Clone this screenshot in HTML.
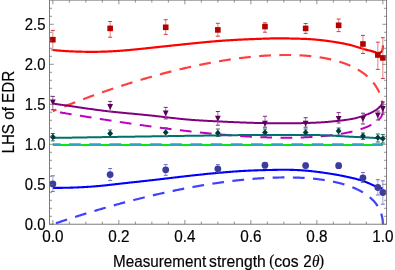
<!DOCTYPE html>
<html><head><meta charset="utf-8"><title>plot</title>
<style>html,body{margin:0;padding:0;background:#fff;width:395px;height:270px;overflow:hidden}body{position:relative;font-family:"Liberation Sans",sans-serif}</style>
</head><body>
<svg width="395" height="270" viewBox="0 0 395 270" style="position:absolute;left:0;top:0">
<defs><clipPath id="c"><rect x="49.5" y="-0.9" width="337.6" height="225.6"/></clipPath></defs>
<g clip-path="url(#c)" fill="none" stroke-linecap="butt" stroke-linejoin="round">
<path d="M52.85 144.9 H382.85" stroke="#00ea14" stroke-width="2.0"/>
<path d="M52.85 144.35 H382.85" stroke="#2ca6c0" stroke-width="2.1" stroke-dasharray="11.8 8.42" stroke-dashoffset="4.05"/>
<path d="M52.85 111.16 L53.89 110.73 L54.92 110.31 L55.96 109.88 L57 109.46 L58.03 109.04 L59.07 108.61 L60.11 108.19 L61.14 107.78 L62.18 107.36 L63.22 106.94 L64.25 106.53 L65.29 106.12 L66.32 105.7 L67.36 105.29 L68.4 104.89 L69.43 104.48 L70.47 104.07 L71.5 103.67 L72.54 103.27 L73.57 102.87 L74.61 102.47 L75.64 102.07 L76.67 101.67 L77.71 101.28 L78.74 100.88 L79.77 100.49 L80.81 100.1 L81.84 99.71 L82.87 99.32 L83.91 98.94 L84.94 98.55 L85.97 98.17 L87 97.79 L88.03 97.41 L89.06 97.03 L90.09 96.65 L91.12 96.27 L92.15 95.9 L93.18 95.53 L94.21 95.16 L95.24 94.79 L96.27 94.42 L97.29 94.05 L98.32 93.69 L99.35 93.32 L100.37 92.96 L101.4 92.6 L102.42 92.24 L103.45 91.88 L104.47 91.53 L105.5 91.18 L106.52 90.82 L107.54 90.47 L108.57 90.12 L109.59 89.77 L110.61 89.43 L111.63 89.08 L112.65 88.74 L113.67 88.4 L114.69 88.06 L115.7 87.72 L116.72 87.38 L117.74 87.05 L118.75 86.72 L119.77 86.38 L120.78 86.05 L121.8 85.72 L122.81 85.4 L123.83 85.07 L124.84 84.75 L125.85 84.43 L126.86 84.11 L127.87 83.79 L128.88 83.47 L129.89 83.15 L130.89 82.84 L131.9 82.53 L132.91 82.22 L133.91 81.91 L134.92 81.6 L135.92 81.29 L136.92 80.99 L137.93 80.69 L138.93 80.39 L139.93 80.09 L140.93 79.79 L141.93 79.49 L142.92 79.2 L143.92 78.91 L144.92 78.62 L145.91 78.33 L146.91 78.04 L147.9 77.75 L148.89 77.47 L149.88 77.19 L150.87 76.91 L151.86 76.63 L152.85 76.35 L153.84 76.07 L154.83 75.8 L155.81 75.53 L156.8 75.26 L157.78 74.99 L158.76 74.72 L159.74 74.46 L160.72 74.19 L161.7 73.93 L162.68 73.67 L163.66 73.41 L164.63 73.16 L165.61 72.9 L166.58 72.65 L167.55 72.4 L168.53 72.15 L169.5 71.9 L170.47 71.65 L171.43 71.41 L172.4 71.16 L173.37 70.92 L174.33 70.68 L175.29 70.44 L176.26 70.21 L177.22 69.97 L178.18 69.74 L179.14 69.51 L180.09 69.28 L181.05 69.05 L182 68.83 L182.96 68.61 L183.91 68.38 L184.86 68.16 L185.81 67.94 L186.76 67.73 L187.7 67.51 L188.65 67.3 L189.59 67.09 L190.54 66.88 L191.48 66.67 L192.42 66.47 L193.36 66.26 L194.29 66.06 L195.23 65.86 L196.17 65.66 L197.1 65.46 L198.03 65.27 L198.96 65.07 L199.89 64.88 L200.82 64.69 L201.74 64.5 L202.67 64.32 L203.59 64.13 L204.51 63.95 L205.43 63.77 L206.35 63.59 L207.27 63.41 L208.18 63.24 L209.1 63.06 L210.01 62.89 L210.92 62.72 L211.83 62.55 L212.74 62.39 L213.64 62.22 L214.55 62.06 L215.45 61.9 L216.35 61.74 L217.25 61.58 L218.15 61.43 L219.05 61.27 L219.94 61.12 L220.83 60.97 L221.73 60.82 L222.62 60.68 L223.5 60.53 L224.39 60.39 L225.27 60.25 L226.16 60.11 L227.04 59.97 L227.92 59.84 L228.8 59.7 L229.67 59.57 L230.55 59.44 L231.42 59.31 L232.29 59.19 L233.16 59.06 L234.03 58.94 L234.89 58.82 L235.76 58.7 L236.62 58.58 L237.48 58.47 L238.34 58.36 L239.19 58.24 L240.05 58.14 L240.9 58.03 L241.75 57.92 L242.6 57.82 L243.45 57.72 L244.29 57.62 L245.14 57.52 L245.98 57.42 L246.82 57.33 L247.66 57.23 L248.49 57.14 L249.33 57.05 L250.16 56.97 L250.99 56.88 L251.82 56.8 L252.64 56.72 L253.47 56.64 L254.29 56.56 L255.11 56.48 L255.93 56.41 L256.74 56.34 L257.56 56.26 L258.37 56.2 L259.18 56.13 L259.99 56.06 L260.79 56 L261.6 55.94 L262.4 55.88 L263.2 55.82 L264 55.77 L264.79 55.72 L265.59 55.66 L266.38 55.61 L267.17 55.57 L267.96 55.52 L268.74 55.48 L269.52 55.43 L270.3 55.39 L271.08 55.35 L271.86 55.32 L272.63 55.28 L273.41 55.25 L274.18 55.22 L274.94 55.19 L275.71 55.16 L276.47 55.14 L277.23 55.11 L277.99 55.09 L278.75 55.07 L279.51 55.05 L280.26 55.04 L281.01 55.02 L281.76 55.01 L282.5 55 L283.24 54.99 L283.99 54.99 L284.72 54.98 L285.46 54.98 L286.2 54.98 L286.93 54.98 L287.66 54.98 L288.38 54.99 L289.11 54.99 L289.83 55 L290.55 55.01 L291.27 55.02 L291.99 55.04 L292.7 55.05 L293.41 55.07 L294.12 55.09 L294.82 55.11 L295.53 55.14 L296.23 55.16 L296.93 55.19 L297.62 55.22 L298.32 55.25 L299.01 55.28 L299.7 55.32 L300.39 55.35 L301.07 55.39 L301.75 55.43 L302.43 55.48 L303.11 55.52 L303.78 55.57 L304.46 55.61 L305.13 55.66 L305.79 55.72 L306.46 55.77 L307.12 55.82 L307.78 55.88 L308.44 55.94 L309.09 56 L309.74 56.06 L310.39 56.13 L311.04 56.2 L311.68 56.26 L312.33 56.34 L312.96 56.41 L313.6 56.48 L314.24 56.56 L314.87 56.64 L315.5 56.72 L316.12 56.8 L316.75 56.88 L317.37 56.97 L317.99 57.05 L318.6 57.14 L319.21 57.23 L319.83 57.33 L320.43 57.42 L321.04 57.52 L321.64 57.62 L322.24 57.72 L322.84 57.82 L323.43 57.92 L324.03 58.03 L324.62 58.14 L325.2 58.24 L325.79 58.36 L326.37 58.47 L326.95 58.58 L327.52 58.7 L328.1 58.82 L328.67 58.94 L329.23 59.06 L329.8 59.19 L330.36 59.31 L330.92 59.44 L331.48 59.57 L332.03 59.7 L332.58 59.84 L333.13 59.97 L333.68 60.11 L334.22 60.25 L334.76 60.39 L335.3 60.53 L335.83 60.68 L336.37 60.82 L336.89 60.97 L337.42 61.12 L337.94 61.27 L338.47 61.43 L338.98 61.58 L339.5 61.74 L340.01 61.9 L340.52 62.06 L341.03 62.22 L341.53 62.39 L342.03 62.55 L342.53 62.72 L343.02 62.89 L343.52 63.06 L344.01 63.24 L344.49 63.41 L344.98 63.59 L345.46 63.77 L345.94 63.95 L346.41 64.13 L346.88 64.32 L347.35 64.5 L347.82 64.69 L348.28 64.88 L348.74 65.07 L349.2 65.27 L349.65 65.46 L350.11 65.66 L350.55 65.86 L351 66.06 L351.44 66.26 L351.88 66.47 L352.32 66.67 L352.75 66.88 L353.18 67.09 L353.61 67.3 L354.04 67.51 L354.46 67.73 L354.88 67.94 L355.3 68.16 L355.71 68.38 L356.12 68.61 L356.53 68.83 L356.93 69.05 L357.33 69.28 L357.73 69.51 L358.13 69.74 L358.52 69.97 L358.91 70.21 L359.29 70.44 L359.68 70.68 L360.06 70.92 L360.43 71.16 L360.81 71.41 L361.18 71.65 L361.55 71.9 L361.91 72.15 L362.27 72.4 L362.63 72.65 L362.99 72.9 L363.34 73.16 L363.69 73.41 L364.04 73.67 L364.38 73.93 L364.72 74.19 L365.06 74.46 L365.39 74.72 L365.72 74.99 L366.05 75.26 L366.38 75.53 L366.7 75.8 L367.02 76.07 L367.33 76.35 L367.65 76.63 L367.96 76.91 L368.26 77.19 L368.56 77.47 L368.87 77.75 L369.16 78.04 L369.46 78.33 L369.75 78.62 L370.03 78.91 L370.32 79.2 L370.6 79.49 L370.88 79.79 L371.15 80.09 L371.43 80.39 L371.69 80.69 L371.96 80.99 L372.22 81.29 L372.48 81.6 L372.74 81.91 L372.99 82.22 L373.24 82.53 L373.49 82.84 L373.73 83.15 L373.97 83.47 L374.21 83.79 L374.44 84.11 L374.67 84.43 L374.9 84.75 L375.13 85.07 L375.35 85.4 L375.57 85.72 L375.78 86.05 L375.99 86.38 L376.2 86.72 L376.41 87.05 L376.61 87.38 L376.81 87.72 L377 88.06 L377.2 88.4 L377.39 88.74 L377.57 89.08 L377.76 89.43 L377.94 89.77 L378.11 90.12 L378.29 90.47 L378.46 90.82 L378.62 91.18 L378.79 91.53 L378.95 91.88 L379.11 92.24 L379.26 92.6 L379.41 92.96 L379.56 93.32 L379.7 93.69 L379.84 94.05 L379.98 94.42 L380.12 94.79 L380.25 95.16 L380.38 95.53 L380.5 95.9 L380.62 96.27 L380.74 96.65 L380.86 97.03 L380.97 97.41 L381.08 97.79 L381.18 98.17 L381.29 98.55 L381.39 98.94 L381.48 99.32 L381.57 99.71 L381.66 100.1 L381.75 100.49 L381.83 100.88 L381.91 101.28 L381.99 101.67 L382.06 102.07 L382.13 102.47 L382.2 102.87 L382.26 103.27 L382.32 103.67 L382.38 104.07 L382.43 104.48 L382.48 104.89 L382.53 105.29 L382.57 105.7 L382.62 106.12 L382.65 106.53 L382.69 106.94 L382.72 107.36 L382.75 107.78 L382.77 108.19 L382.79 108.61 L382.81 109.04 L382.82 109.46 L382.84 109.88 L382.84 110.31 L382.85 110.73 L382.85 111.16" stroke="#ff4040" stroke-width="2.2" stroke-dasharray="11.8 8.4" stroke-dashoffset="7.88"/>
<path d="M52.85 111.16 L53.89 111.34 L54.92 111.52 L55.96 111.69 L57 111.87 L58.03 112.05 L59.07 112.22 L60.11 112.4 L61.14 112.58 L62.18 112.75 L63.22 112.93 L64.25 113.1 L65.29 113.27 L66.32 113.45 L67.36 113.62 L68.4 113.8 L69.43 113.97 L70.47 114.14 L71.5 114.31 L72.54 114.49 L73.57 114.66 L74.61 114.83 L75.64 115 L76.67 115.17 L77.71 115.34 L78.74 115.51 L79.77 115.68 L80.81 115.85 L81.84 116.02 L82.87 116.19 L83.91 116.35 L84.94 116.52 L85.97 116.69 L87 116.86 L88.03 117.02 L89.06 117.19 L90.09 117.36 L91.12 117.52 L92.15 117.69 L93.18 117.85 L94.21 118.01 L95.24 118.18 L96.27 118.34 L97.29 118.5 L98.32 118.67 L99.35 118.83 L100.37 118.99 L101.4 119.15 L102.42 119.31 L103.45 119.47 L104.47 119.63 L105.5 119.79 L106.52 119.95 L107.54 120.11 L108.57 120.27 L109.59 120.43 L110.61 120.58 L111.63 120.74 L112.65 120.9 L113.67 121.05 L114.69 121.21 L115.7 121.36 L116.72 121.52 L117.74 121.67 L118.75 121.82 L119.77 121.98 L120.78 122.13 L121.8 122.28 L122.81 122.43 L123.83 122.58 L124.84 122.73 L125.85 122.88 L126.86 123.03 L127.87 123.18 L128.88 123.33 L129.89 123.48 L130.89 123.62 L131.9 123.77 L132.91 123.92 L133.91 124.06 L134.92 124.21 L135.92 124.35 L136.92 124.49 L137.93 124.64 L138.93 124.78 L139.93 124.92 L140.93 125.06 L141.93 125.2 L142.92 125.34 L143.92 125.48 L144.92 125.62 L145.91 125.76 L146.91 125.9 L147.9 126.04 L148.89 126.17 L149.88 126.31 L150.87 126.44 L151.86 126.58 L152.85 126.71 L153.84 126.85 L154.83 126.98 L155.81 127.11 L156.8 127.24 L157.78 127.38 L158.76 127.51 L159.74 127.64 L160.72 127.76 L161.7 127.89 L162.68 128.02 L163.66 128.15 L164.63 128.27 L165.61 128.4 L166.58 128.53 L167.55 128.65 L168.53 128.77 L169.5 128.9 L170.47 129.02 L171.43 129.14 L172.4 129.26 L173.37 129.38 L174.33 129.5 L175.29 129.62 L176.26 129.74 L177.22 129.86 L178.18 129.97 L179.14 130.09 L180.09 130.2 L181.05 130.32 L182 130.43 L182.96 130.54 L183.91 130.66 L184.86 130.77 L185.81 130.88 L186.76 130.99 L187.7 131.1 L188.65 131.21 L189.59 131.31 L190.54 131.42 L191.48 131.53 L192.42 131.63 L193.36 131.74 L194.29 131.84 L195.23 131.94 L196.17 132.04 L197.1 132.15 L198.03 132.25 L198.96 132.35 L199.89 132.44 L200.82 132.54 L201.74 132.64 L202.67 132.74 L203.59 132.83 L204.51 132.93 L205.43 133.02 L206.35 133.11 L207.27 133.21 L208.18 133.3 L209.1 133.39 L210.01 133.48 L210.92 133.57 L211.83 133.65 L212.74 133.74 L213.64 133.83 L214.55 133.91 L215.45 134 L216.35 134.08 L217.25 134.16 L218.15 134.24 L219.05 134.33 L219.94 134.41 L220.83 134.48 L221.73 134.56 L222.62 134.64 L223.5 134.72 L224.39 134.79 L225.27 134.87 L226.16 134.94 L227.04 135.01 L227.92 135.09 L228.8 135.16 L229.67 135.23 L230.55 135.3 L231.42 135.36 L232.29 135.43 L233.16 135.5 L234.03 135.56 L234.89 135.63 L235.76 135.69 L236.62 135.75 L237.48 135.82 L238.34 135.88 L239.19 135.94 L240.05 136 L240.9 136.05 L241.75 136.11 L242.6 136.17 L243.45 136.22 L244.29 136.27 L245.14 136.33 L245.98 136.38 L246.82 136.43 L247.66 136.48 L248.49 136.53 L249.33 136.58 L250.16 136.63 L250.99 136.67 L251.82 136.72 L252.64 136.76 L253.47 136.8 L254.29 136.85 L255.11 136.89 L255.93 136.93 L256.74 136.97 L257.56 137.01 L258.37 137.04 L259.18 137.08 L259.99 137.11 L260.79 137.15 L261.6 137.18 L262.4 137.21 L263.2 137.25 L264 137.28 L264.79 137.31 L265.59 137.33 L266.38 137.36 L267.17 137.39 L267.96 137.41 L268.74 137.44 L269.52 137.46 L270.3 137.48 L271.08 137.5 L271.86 137.52 L272.63 137.54 L273.41 137.56 L274.18 137.58 L274.94 137.59 L275.71 137.61 L276.47 137.62 L277.23 137.63 L277.99 137.65 L278.75 137.66 L279.51 137.67 L280.26 137.68 L281.01 137.68 L281.76 137.69 L282.5 137.7 L283.24 137.7 L283.99 137.7 L284.72 137.71 L285.46 137.71 L286.2 137.71 L286.93 137.71 L287.66 137.71 L288.38 137.7 L289.11 137.7 L289.83 137.7 L290.55 137.69 L291.27 137.68 L291.99 137.68 L292.7 137.67 L293.41 137.66 L294.12 137.65 L294.82 137.63 L295.53 137.62 L296.23 137.61 L296.93 137.59 L297.62 137.58 L298.32 137.56 L299.01 137.54 L299.7 137.52 L300.39 137.5 L301.07 137.48 L301.75 137.46 L302.43 137.44 L303.11 137.41 L303.78 137.39 L304.46 137.36 L305.13 137.33 L305.79 137.31 L306.46 137.28 L307.12 137.25 L307.78 137.21 L308.44 137.18 L309.09 137.15 L309.74 137.11 L310.39 137.08 L311.04 137.04 L311.68 137.01 L312.33 136.97 L312.96 136.93 L313.6 136.89 L314.24 136.85 L314.87 136.8 L315.5 136.76 L316.12 136.72 L316.75 136.67 L317.37 136.63 L317.99 136.58 L318.6 136.53 L319.21 136.48 L319.83 136.43 L320.43 136.38 L321.04 136.33 L321.64 136.27 L322.24 136.22 L322.84 136.17 L323.43 136.11 L324.03 136.05 L324.62 136 L325.2 135.94 L325.79 135.88 L326.37 135.82 L326.95 135.75 L327.52 135.69 L328.1 135.63 L328.67 135.56 L329.23 135.5 L329.8 135.43 L330.36 135.36 L330.92 135.3 L331.48 135.23 L332.03 135.16 L332.58 135.09 L333.13 135.01 L333.68 134.94 L334.22 134.87 L334.76 134.79 L335.3 134.72 L335.83 134.64 L336.37 134.56 L336.89 134.48 L337.42 134.41 L337.94 134.33 L338.47 134.24 L338.98 134.16 L339.5 134.08 L340.01 134 L340.52 133.91 L341.03 133.83 L341.53 133.74 L342.03 133.65 L342.53 133.57 L343.02 133.48 L343.52 133.39 L344.01 133.3 L344.49 133.21 L344.98 133.11 L345.46 133.02 L345.94 132.93 L346.41 132.83 L346.88 132.74 L347.35 132.64 L347.82 132.54 L348.28 132.44 L348.74 132.35 L349.2 132.25 L349.65 132.15 L350.11 132.04 L350.55 131.94 L351 131.84 L351.44 131.74 L351.88 131.63 L352.32 131.53 L352.75 131.42 L353.18 131.31 L353.61 131.21 L354.04 131.1 L354.46 130.99 L354.88 130.88 L355.3 130.77 L355.71 130.66 L356.12 130.54 L356.53 130.43 L356.93 130.32 L357.33 130.2 L357.73 130.09 L358.13 129.97 L358.52 129.86 L358.91 129.74 L359.29 129.62 L359.68 129.5 L360.06 129.38 L360.43 129.26 L360.81 129.14 L361.18 129.02 L361.55 128.9 L361.91 128.77 L362.27 128.65 L362.63 128.53 L362.99 128.4 L363.34 128.27 L363.69 128.15 L364.04 128.02 L364.38 127.89 L364.72 127.76 L365.06 127.64 L365.39 127.51 L365.72 127.38 L366.05 127.24 L366.38 127.11 L366.7 126.98 L367.02 126.85 L367.33 126.71 L367.65 126.58 L367.96 126.44 L368.26 126.31 L368.56 126.17 L368.87 126.04 L369.16 125.9 L369.46 125.76 L369.75 125.62 L370.03 125.48 L370.32 125.34 L370.6 125.2 L370.88 125.06 L371.15 124.92 L371.43 124.78 L371.69 124.64 L371.96 124.49 L372.22 124.35 L372.48 124.21 L372.74 124.06 L372.99 123.92 L373.24 123.77 L373.49 123.62 L373.73 123.48 L373.97 123.33 L374.21 123.18 L374.44 123.03 L374.67 122.88 L374.9 122.73 L375.13 122.58 L375.35 122.43 L375.57 122.28 L375.78 122.13 L375.99 121.98 L376.2 121.82 L376.41 121.67 L376.61 121.52 L376.81 121.36 L377 121.21 L377.2 121.05 L377.39 120.9 L377.57 120.74 L377.76 120.58 L377.94 120.43 L378.11 120.27 L378.29 120.11 L378.46 119.95 L378.62 119.79 L378.79 119.63 L378.95 119.47 L379.11 119.31 L379.26 119.15 L379.41 118.99 L379.56 118.83 L379.7 118.67 L379.84 118.5 L379.98 118.34 L380.12 118.18 L380.25 118.01 L380.38 117.85 L380.5 117.69 L380.62 117.52 L380.74 117.36 L380.86 117.19 L380.97 117.02 L381.08 116.86 L381.18 116.69 L381.29 116.52 L381.39 116.35 L381.48 116.19 L381.57 116.02 L381.66 115.85 L381.75 115.68 L381.83 115.51 L381.91 115.34 L381.99 115.17 L382.06 115 L382.13 114.83 L382.2 114.66 L382.26 114.49 L382.32 114.31 L382.38 114.14 L382.43 113.97 L382.48 113.8 L382.53 113.62 L382.57 113.45 L382.62 113.27 L382.65 113.1 L382.69 112.93 L382.72 112.75 L382.75 112.58 L382.77 112.4 L382.79 112.22 L382.81 112.05 L382.82 111.87 L382.84 111.69 L382.84 111.52 L382.85 111.34 L382.85 111.16" stroke="#c000c0" stroke-width="2.0" stroke-dasharray="11.8 8.4" stroke-dashoffset="13.0"/>
<path d="M52.85 224.3 L53.89 223.95 L54.92 223.59 L55.96 223.24 L57 222.89 L58.03 222.54 L59.07 222.19 L60.11 221.84 L61.14 221.49 L62.18 221.15 L63.22 220.8 L64.25 220.46 L65.29 220.12 L66.32 219.78 L67.36 219.43 L68.4 219.1 L69.43 218.76 L70.47 218.42 L71.5 218.09 L72.54 217.75 L73.57 217.42 L74.61 217.09 L75.64 216.76 L76.67 216.43 L77.71 216.1 L78.74 215.77 L79.77 215.45 L80.81 215.12 L81.84 214.8 L82.87 214.48 L83.91 214.15 L84.94 213.84 L85.97 213.52 L87 213.2 L88.03 212.88 L89.06 212.57 L90.09 212.25 L91.12 211.94 L92.15 211.63 L93.18 211.32 L94.21 211.01 L95.24 210.7 L96.27 210.4 L97.29 210.09 L98.32 209.79 L99.35 209.49 L100.37 209.19 L101.4 208.89 L102.42 208.59 L103.45 208.29 L104.47 207.99 L105.5 207.7 L106.52 207.41 L107.54 207.11 L108.57 206.82 L109.59 206.53 L110.61 206.24 L111.63 205.96 L112.65 205.67 L113.67 205.39 L114.69 205.1 L115.7 204.82 L116.72 204.54 L117.74 204.26 L118.75 203.98 L119.77 203.71 L120.78 203.43 L121.8 203.16 L122.81 202.89 L123.83 202.61 L124.84 202.34 L125.85 202.08 L126.86 201.81 L127.87 201.54 L128.88 201.28 L129.89 201.01 L130.89 200.75 L131.9 200.49 L132.91 200.23 L133.91 199.97 L134.92 199.72 L135.92 199.46 L136.92 199.21 L137.93 198.96 L138.93 198.71 L139.93 198.46 L140.93 198.21 L141.93 197.96 L142.92 197.72 L143.92 197.47 L144.92 197.23 L145.91 196.99 L146.91 196.75 L147.9 196.51 L148.89 196.27 L149.88 196.03 L150.87 195.8 L151.86 195.57 L152.85 195.34 L153.84 195.1 L154.83 194.88 L155.81 194.65 L156.8 194.42 L157.78 194.2 L158.76 193.97 L159.74 193.75 L160.72 193.53 L161.7 193.31 L162.68 193.1 L163.66 192.88 L164.63 192.66 L165.61 192.45 L166.58 192.24 L167.55 192.03 L168.53 191.82 L169.5 191.61 L170.47 191.41 L171.43 191.2 L172.4 191 L173.37 190.8 L174.33 190.6 L175.29 190.4 L176.26 190.2 L177.22 190 L178.18 189.81 L179.14 189.62 L180.09 189.42 L181.05 189.23 L182 189.05 L182.96 188.86 L183.91 188.67 L184.86 188.49 L185.81 188.31 L186.76 188.12 L187.7 187.94 L188.65 187.77 L189.59 187.59 L190.54 187.41 L191.48 187.24 L192.42 187.07 L193.36 186.9 L194.29 186.73 L195.23 186.56 L196.17 186.39 L197.1 186.23 L198.03 186.06 L198.96 185.9 L199.89 185.74 L200.82 185.58 L201.74 185.42 L202.67 185.27 L203.59 185.11 L204.51 184.96 L205.43 184.81 L206.35 184.66 L207.27 184.51 L208.18 184.36 L209.1 184.22 L210.01 184.07 L210.92 183.93 L211.83 183.79 L212.74 183.65 L213.64 183.51 L214.55 183.38 L215.45 183.24 L216.35 183.11 L217.25 182.98 L218.15 182.85 L219.05 182.72 L219.94 182.59 L220.83 182.46 L221.73 182.34 L222.62 182.22 L223.5 182.1 L224.39 181.98 L225.27 181.86 L226.16 181.74 L227.04 181.63 L227.92 181.51 L228.8 181.4 L229.67 181.29 L230.55 181.18 L231.42 181.07 L232.29 180.97 L233.16 180.86 L234.03 180.76 L234.89 180.66 L235.76 180.56 L236.62 180.46 L237.48 180.37 L238.34 180.27 L239.19 180.18 L240.05 180.09 L240.9 180 L241.75 179.91 L242.6 179.82 L243.45 179.73 L244.29 179.65 L245.14 179.57 L245.98 179.49 L246.82 179.41 L247.66 179.33 L248.49 179.25 L249.33 179.18 L250.16 179.1 L250.99 179.03 L251.82 178.96 L252.64 178.89 L253.47 178.83 L254.29 178.76 L255.11 178.7 L255.93 178.64 L256.74 178.58 L257.56 178.52 L258.37 178.46 L259.18 178.4 L259.99 178.35 L260.79 178.3 L261.6 178.24 L262.4 178.2 L263.2 178.15 L264 178.1 L264.79 178.06 L265.59 178.01 L266.38 177.97 L267.17 177.93 L267.96 177.89 L268.74 177.85 L269.52 177.82 L270.3 177.79 L271.08 177.75 L271.86 177.72 L272.63 177.69 L273.41 177.67 L274.18 177.64 L274.94 177.61 L275.71 177.59 L276.47 177.57 L277.23 177.55 L277.99 177.53 L278.75 177.52 L279.51 177.5 L280.26 177.49 L281.01 177.48 L281.76 177.47 L282.5 177.46 L283.24 177.45 L283.99 177.44 L284.72 177.44 L285.46 177.44 L286.2 177.44 L286.93 177.44 L287.66 177.44 L288.38 177.44 L289.11 177.45 L289.83 177.46 L290.55 177.47 L291.27 177.48 L291.99 177.49 L292.7 177.5 L293.41 177.52 L294.12 177.53 L294.82 177.55 L295.53 177.57 L296.23 177.59 L296.93 177.61 L297.62 177.64 L298.32 177.67 L299.01 177.69 L299.7 177.72 L300.39 177.75 L301.07 177.79 L301.75 177.82 L302.43 177.85 L303.11 177.89 L303.78 177.93 L304.46 177.97 L305.13 178.01 L305.79 178.06 L306.46 178.1 L307.12 178.15 L307.78 178.2 L308.44 178.24 L309.09 178.3 L309.74 178.35 L310.39 178.4 L311.04 178.46 L311.68 178.52 L312.33 178.58 L312.96 178.64 L313.6 178.7 L314.24 178.76 L314.87 178.83 L315.5 178.89 L316.12 178.96 L316.75 179.03 L317.37 179.1 L317.99 179.18 L318.6 179.25 L319.21 179.33 L319.83 179.41 L320.43 179.49 L321.04 179.57 L321.64 179.65 L322.24 179.73 L322.84 179.82 L323.43 179.91 L324.03 180 L324.62 180.09 L325.2 180.18 L325.79 180.27 L326.37 180.37 L326.95 180.46 L327.52 180.56 L328.1 180.66 L328.67 180.76 L329.23 180.86 L329.8 180.97 L330.36 181.07 L330.92 181.18 L331.48 181.29 L332.03 181.4 L332.58 181.51 L333.13 181.63 L333.68 181.74 L334.22 181.86 L334.76 181.98 L335.3 182.1 L335.83 182.22 L336.37 182.34 L336.89 182.46 L337.42 182.59 L337.94 182.72 L338.47 182.85 L338.98 182.98 L339.5 183.11 L340.01 183.24 L340.52 183.38 L341.03 183.51 L341.53 183.65 L342.03 183.79 L342.53 183.93 L343.02 184.07 L343.52 184.22 L344.01 184.36 L344.49 184.51 L344.98 184.66 L345.46 184.81 L345.94 184.96 L346.41 185.11 L346.88 185.27 L347.35 185.42 L347.82 185.58 L348.28 185.74 L348.74 185.9 L349.2 186.06 L349.65 186.23 L350.11 186.39 L350.55 186.56 L351 186.73 L351.44 186.9 L351.88 187.07 L352.32 187.24 L352.75 187.41 L353.18 187.59 L353.61 187.77 L354.04 187.94 L354.46 188.12 L354.88 188.31 L355.3 188.49 L355.71 188.67 L356.12 188.86 L356.53 189.05 L356.93 189.23 L357.33 189.42 L357.73 189.62 L358.13 189.81 L358.52 190 L358.91 190.2 L359.29 190.4 L359.68 190.6 L360.06 190.8 L360.43 191 L360.81 191.2 L361.18 191.41 L361.55 191.61 L361.91 191.82 L362.27 192.03 L362.63 192.24 L362.99 192.45 L363.34 192.66 L363.69 192.88 L364.04 193.1 L364.38 193.31 L364.72 193.53 L365.06 193.75 L365.39 193.97 L365.72 194.2 L366.05 194.42 L366.38 194.65 L366.7 194.88 L367.02 195.1 L367.33 195.34 L367.65 195.57 L367.96 195.8 L368.26 196.03 L368.56 196.27 L368.87 196.51 L369.16 196.75 L369.46 196.99 L369.75 197.23 L370.03 197.47 L370.32 197.72 L370.6 197.96 L370.88 198.21 L371.15 198.46 L371.43 198.71 L371.69 198.96 L371.96 199.21 L372.22 199.46 L372.48 199.72 L372.74 199.97 L372.99 200.23 L373.24 200.49 L373.49 200.75 L373.73 201.01 L373.97 201.28 L374.21 201.54 L374.44 201.81 L374.67 202.08 L374.9 202.34 L375.13 202.61 L375.35 202.89 L375.57 203.16 L375.78 203.43 L375.99 203.71 L376.2 203.98 L376.41 204.26 L376.61 204.54 L376.81 204.82 L377 205.1 L377.2 205.39 L377.39 205.67 L377.57 205.96 L377.76 206.24 L377.94 206.53 L378.11 206.82 L378.29 207.11 L378.46 207.41 L378.62 207.7 L378.79 207.99 L378.95 208.29 L379.11 208.59 L379.26 208.89 L379.41 209.19 L379.56 209.49 L379.7 209.79 L379.84 210.09 L379.98 210.4 L380.12 210.7 L380.25 211.01 L380.38 211.32 L380.5 211.63 L380.62 211.94 L380.74 212.25 L380.86 212.57 L380.97 212.88 L381.08 213.2 L381.18 213.52 L381.29 213.84 L381.39 214.15 L381.48 214.48 L381.57 214.8 L381.66 215.12 L381.75 215.45 L381.83 215.77 L381.91 216.1 L381.99 216.43 L382.06 216.76 L382.13 217.09 L382.2 217.42 L382.26 217.75 L382.32 218.09 L382.38 218.42 L382.43 218.76 L382.48 219.1 L382.53 219.43 L382.57 219.78 L382.62 220.12 L382.65 220.46 L382.69 220.8 L382.72 221.15 L382.75 221.49 L382.77 221.84 L382.79 222.19 L382.81 222.54 L382.82 222.89 L382.84 223.24 L382.84 223.59 L382.85 223.95 L382.85 224.3" stroke="#4040ff" stroke-width="2.2" stroke-dasharray="11.8 8.4" stroke-dashoffset="16.98"/>
<path d="M52.85 50 L53.69 50.09 L54.53 50.17 L55.37 50.25 L56.21 50.33 L57.05 50.4 L57.89 50.48 L58.74 50.55 L59.58 50.62 L60.42 50.69 L61.26 50.75 L62.1 50.81 L62.94 50.87 L63.79 50.93 L64.63 50.99 L65.47 51.04 L66.31 51.1 L67.15 51.15 L68 51.19 L68.84 51.24 L69.68 51.28 L70.53 51.33 L71.37 51.37 L72.21 51.4 L73.06 51.44 L73.9 51.48 L74.74 51.51 L75.59 51.54 L76.43 51.57 L77.27 51.6 L78.12 51.62 L78.96 51.65 L79.8 51.67 L80.65 51.69 L81.49 51.71 L82.34 51.73 L83.18 51.74 L84.02 51.76 L84.87 51.77 L85.71 51.78 L86.56 51.79 L87.4 51.8 L88.25 51.81 L89.09 51.81 L89.93 51.81 L90.78 51.82 L91.62 51.82 L92.47 51.82 L93.31 51.81 L94.16 51.81 L95 51.8 L95.85 51.8 L96.69 51.79 L97.53 51.78 L98.38 51.76 L99.22 51.75 L100.07 51.73 L100.91 51.72 L101.75 51.7 L102.6 51.67 L103.44 51.65 L104.29 51.63 L105.13 51.6 L105.97 51.57 L106.82 51.54 L107.66 51.5 L108.5 51.47 L109.35 51.43 L110.19 51.39 L111.03 51.35 L111.87 51.31 L112.72 51.26 L113.56 51.21 L114.4 51.16 L115.24 51.11 L116.09 51.06 L116.93 51 L117.77 50.94 L118.61 50.89 L119.45 50.83 L120.3 50.76 L121.14 50.7 L121.98 50.63 L122.82 50.57 L123.66 50.5 L124.5 50.43 L125.34 50.36 L126.19 50.29 L127.03 50.21 L127.87 50.14 L128.71 50.06 L129.55 49.99 L130.39 49.91 L131.23 49.83 L132.07 49.75 L132.91 49.67 L133.75 49.59 L134.59 49.51 L135.43 49.42 L136.27 49.34 L137.11 49.25 L137.95 49.17 L138.79 49.08 L139.63 49 L140.47 48.91 L141.31 48.82 L142.15 48.73 L142.99 48.65 L143.83 48.56 L144.67 48.47 L145.51 48.38 L146.35 48.29 L147.19 48.2 L148.03 48.11 L148.87 48.02 L149.71 47.93 L150.55 47.84 L151.39 47.75 L152.23 47.66 L153.07 47.57 L153.91 47.48 L154.75 47.39 L155.59 47.3 L156.43 47.21 L157.27 47.12 L158.11 47.04 L158.95 46.95 L159.78 46.86 L160.62 46.77 L161.46 46.68 L162.3 46.59 L163.14 46.5 L163.98 46.41 L164.82 46.32 L165.66 46.23 L166.5 46.14 L167.34 46.06 L168.18 45.97 L169.02 45.88 L169.86 45.79 L170.7 45.7 L171.54 45.61 L172.38 45.52 L173.21 45.44 L174.05 45.35 L174.89 45.26 L175.73 45.17 L176.57 45.08 L177.41 44.99 L178.25 44.91 L179.09 44.82 L179.93 44.73 L180.77 44.64 L181.61 44.55 L182.45 44.47 L183.29 44.38 L184.13 44.29 L184.97 44.2 L185.81 44.12 L186.65 44.03 L187.49 43.94 L188.32 43.85 L189.16 43.77 L190 43.68 L190.84 43.59 L191.68 43.51 L192.52 43.42 L193.36 43.33 L194.2 43.25 L195.04 43.16 L195.88 43.08 L196.72 42.99 L197.56 42.91 L198.4 42.83 L199.24 42.74 L200.08 42.66 L200.92 42.58 L201.76 42.5 L202.6 42.42 L203.44 42.34 L204.28 42.26 L205.12 42.18 L205.96 42.1 L206.81 42.02 L207.65 41.94 L208.49 41.86 L209.33 41.79 L210.17 41.71 L211.01 41.64 L211.85 41.57 L212.69 41.49 L213.53 41.42 L214.37 41.35 L215.21 41.28 L216.06 41.21 L216.9 41.14 L217.74 41.08 L218.58 41.01 L219.42 40.94 L220.26 40.88 L221.1 40.82 L221.95 40.76 L222.79 40.69 L223.63 40.63 L224.47 40.58 L225.31 40.52 L226.16 40.46 L227 40.4 L227.84 40.35 L228.68 40.3 L229.53 40.24 L230.37 40.19 L231.21 40.14 L232.05 40.09 L232.9 40.04 L233.74 39.99 L234.58 39.94 L235.42 39.9 L236.27 39.85 L237.11 39.8 L237.95 39.76 L238.8 39.72 L239.64 39.67 L240.48 39.63 L241.33 39.59 L242.17 39.55 L243.01 39.51 L243.86 39.47 L244.7 39.43 L245.54 39.39 L246.39 39.35 L247.23 39.32 L248.07 39.28 L248.92 39.24 L249.76 39.21 L250.6 39.18 L251.45 39.14 L252.29 39.11 L253.13 39.08 L253.98 39.04 L254.82 39.01 L255.66 38.98 L256.51 38.95 L257.35 38.92 L258.19 38.89 L259.04 38.86 L259.88 38.83 L260.72 38.8 L261.57 38.77 L262.41 38.74 L263.26 38.72 L264.1 38.69 L264.94 38.66 L265.79 38.63 L266.63 38.61 L267.47 38.58 L268.32 38.55 L269.16 38.53 L270.01 38.5 L270.85 38.47 L271.69 38.45 L272.54 38.42 L273.38 38.4 L274.22 38.38 L275.07 38.36 L275.91 38.34 L276.76 38.33 L277.6 38.31 L278.44 38.31 L279.29 38.3 L280.13 38.3 L280.98 38.3 L281.82 38.31 L282.66 38.32 L283.51 38.34 L284.35 38.35 L285.2 38.37 L286.04 38.39 L286.88 38.42 L287.73 38.44 L288.57 38.46 L289.42 38.48 L290.26 38.51 L291.1 38.53 L291.95 38.55 L292.79 38.57 L293.64 38.59 L294.48 38.61 L295.33 38.63 L296.17 38.65 L297.01 38.67 L297.86 38.69 L298.7 38.71 L299.55 38.73 L300.39 38.76 L301.24 38.78 L302.08 38.81 L302.92 38.84 L303.77 38.87 L304.61 38.9 L305.45 38.93 L306.3 38.97 L307.14 39.01 L307.98 39.05 L308.82 39.1 L309.67 39.15 L310.51 39.2 L311.35 39.25 L312.19 39.31 L313.03 39.38 L313.87 39.44 L314.71 39.51 L315.55 39.59 L316.39 39.66 L317.23 39.75 L318.07 39.83 L318.91 39.92 L319.75 40.01 L320.59 40.1 L321.43 40.19 L322.27 40.29 L323.1 40.39 L323.94 40.5 L324.78 40.6 L325.62 40.71 L326.46 40.82 L327.29 40.93 L328.13 41.05 L328.97 41.16 L329.8 41.28 L330.64 41.4 L331.48 41.52 L332.32 41.65 L333.15 41.77 L333.99 41.9 L334.82 42.03 L335.66 42.16 L336.5 42.29 L337.33 42.42 L338.17 42.56 L339 42.7 L339.83 42.84 L340.67 42.99 L341.5 43.14 L342.33 43.3 L343.16 43.45 L343.99 43.62 L344.82 43.78 L345.64 43.96 L346.47 44.13 L347.29 44.31 L348.12 44.5 L348.94 44.69 L349.76 44.89 L350.58 45.09 L351.4 45.3 L352.21 45.51 L353.03 45.73 L353.84 45.96 L354.65 46.2 L355.46 46.44 L356.26 46.69 L357.07 46.94 L357.87 47.19 L358.68 47.45 L359.48 47.71 L360.29 47.97 L361.09 48.23 L361.9 48.48 L362.7 48.73 L363.51 48.97 L364.32 49.21 L365.13 49.44 L365.95 49.65 L366.76 49.87 L367.58 50.07 L368.4 50.28 L369.22 50.48 L370.04 50.69 L370.86 50.9 L371.67 51.12 L372.49 51.34 L373.3 51.58 L374.1 51.83 L374.91 52.1 L375.71 52.35 L376.53 52.56 L377.36 52.72 L378.21 52.8 L379.09 52.77 L379.95 52.61 L380.74 52.3 L381.4 51.82 L381.9 51.18 L382.25 50.4 L382.5 49.54 L382.66 48.62 L382.76 47.7 L382.83 46.81 L382.9 46 L383 45.3" stroke="#ff0000" stroke-width="2.2"/>
<path d="M52.85 103.6 L53.69 103.71 L54.52 103.83 L55.36 103.94 L56.19 104.06 L57.03 104.17 L57.86 104.29 L58.7 104.4 L59.53 104.52 L60.37 104.64 L61.2 104.76 L62.04 104.88 L62.87 105 L63.71 105.12 L64.54 105.24 L65.38 105.36 L66.21 105.48 L67.05 105.6 L67.88 105.72 L68.72 105.84 L69.55 105.97 L70.39 106.09 L71.22 106.21 L72.06 106.33 L72.89 106.46 L73.73 106.58 L74.56 106.7 L75.4 106.82 L76.23 106.95 L77.07 107.07 L77.9 107.19 L78.74 107.32 L79.57 107.44 L80.41 107.56 L81.24 107.68 L82.08 107.8 L82.91 107.92 L83.75 108.05 L84.58 108.17 L85.42 108.29 L86.25 108.41 L87.09 108.53 L87.92 108.64 L88.76 108.76 L89.59 108.88 L90.43 109 L91.26 109.11 L92.1 109.23 L92.94 109.35 L93.77 109.46 L94.61 109.57 L95.44 109.69 L96.28 109.8 L97.12 109.91 L97.95 110.02 L98.79 110.13 L99.63 110.24 L100.46 110.35 L101.3 110.46 L102.14 110.56 L102.97 110.67 L103.81 110.77 L104.65 110.87 L105.48 110.97 L106.32 111.07 L107.16 111.17 L108 111.27 L108.84 111.37 L109.67 111.46 L110.51 111.56 L111.35 111.65 L112.19 111.74 L113.03 111.83 L113.87 111.92 L114.7 112.01 L115.54 112.1 L116.38 112.18 L117.22 112.27 L118.06 112.35 L118.9 112.43 L119.74 112.52 L120.58 112.6 L121.42 112.68 L122.26 112.76 L123.1 112.84 L123.94 112.92 L124.78 113 L125.62 113.07 L126.46 113.15 L127.3 113.23 L128.14 113.31 L128.98 113.38 L129.82 113.46 L130.66 113.54 L131.5 113.62 L132.34 113.69 L133.18 113.77 L134.02 113.85 L134.86 113.92 L135.7 114 L136.54 114.08 L137.38 114.16 L138.22 114.23 L139.06 114.31 L139.9 114.39 L140.74 114.47 L141.58 114.55 L142.42 114.63 L143.26 114.71 L144.1 114.8 L144.94 114.88 L145.78 114.96 L146.62 115.05 L147.46 115.13 L148.3 115.22 L149.14 115.31 L149.98 115.4 L150.81 115.49 L151.65 115.58 L152.49 115.67 L153.33 115.76 L154.17 115.86 L155.01 115.95 L155.85 116.05 L156.68 116.14 L157.52 116.24 L158.36 116.34 L159.2 116.44 L160.04 116.53 L160.87 116.63 L161.71 116.73 L162.55 116.83 L163.39 116.93 L164.23 117.03 L165.06 117.13 L165.9 117.22 L166.74 117.32 L167.58 117.42 L168.42 117.52 L169.25 117.62 L170.09 117.72 L170.93 117.81 L171.77 117.91 L172.61 118 L173.44 118.1 L174.28 118.19 L175.12 118.29 L175.96 118.38 L176.8 118.47 L177.64 118.56 L178.47 118.65 L179.31 118.74 L180.15 118.83 L180.99 118.91 L181.83 119 L182.67 119.08 L183.51 119.16 L184.35 119.24 L185.19 119.32 L186.03 119.39 L186.87 119.47 L187.71 119.54 L188.55 119.61 L189.39 119.68 L190.23 119.75 L191.07 119.82 L191.91 119.88 L192.75 119.95 L193.59 120.01 L194.44 120.07 L195.28 120.13 L196.12 120.19 L196.96 120.25 L197.8 120.3 L198.64 120.36 L199.49 120.41 L200.33 120.46 L201.17 120.52 L202.01 120.57 L202.85 120.62 L203.7 120.67 L204.54 120.72 L205.38 120.76 L206.22 120.81 L207.07 120.86 L207.91 120.9 L208.75 120.95 L209.59 120.99 L210.44 121.03 L211.28 121.08 L212.12 121.12 L212.97 121.16 L213.81 121.2 L214.65 121.24 L215.49 121.29 L216.34 121.33 L217.18 121.37 L218.02 121.41 L218.87 121.45 L219.71 121.49 L220.55 121.53 L221.39 121.57 L222.24 121.61 L223.08 121.64 L223.92 121.68 L224.77 121.72 L225.61 121.76 L226.45 121.8 L227.29 121.84 L228.14 121.88 L228.98 121.92 L229.82 121.95 L230.67 121.99 L231.51 122.03 L232.35 122.07 L233.19 122.1 L234.04 122.14 L234.88 122.18 L235.72 122.21 L236.57 122.25 L237.41 122.28 L238.25 122.32 L239.09 122.35 L239.94 122.38 L240.78 122.42 L241.62 122.45 L242.47 122.48 L243.31 122.51 L244.15 122.55 L245 122.58 L245.84 122.61 L246.68 122.64 L247.52 122.67 L248.37 122.7 L249.21 122.72 L250.05 122.75 L250.9 122.78 L251.74 122.8 L252.58 122.83 L253.43 122.86 L254.27 122.88 L255.11 122.9 L255.96 122.93 L256.8 122.95 L257.64 122.97 L258.49 122.99 L259.33 123.01 L260.17 123.03 L261.02 123.05 L261.86 123.07 L262.7 123.08 L263.55 123.1 L264.39 123.12 L265.23 123.13 L266.08 123.15 L266.92 123.16 L267.76 123.17 L268.61 123.19 L269.45 123.2 L270.29 123.21 L271.14 123.22 L271.98 123.23 L272.83 123.24 L273.67 123.25 L274.51 123.26 L275.36 123.26 L276.2 123.27 L277.04 123.28 L277.89 123.28 L278.73 123.29 L279.57 123.29 L280.42 123.29 L281.26 123.3 L282.11 123.3 L282.95 123.3 L283.79 123.3 L284.64 123.3 L285.48 123.3 L286.32 123.3 L287.17 123.3 L288.01 123.29 L288.85 123.29 L289.7 123.29 L290.54 123.28 L291.39 123.28 L292.23 123.27 L293.07 123.26 L293.92 123.25 L294.76 123.24 L295.6 123.23 L296.45 123.22 L297.29 123.21 L298.13 123.2 L298.98 123.19 L299.82 123.17 L300.66 123.15 L301.51 123.14 L302.35 123.12 L303.19 123.1 L304.04 123.08 L304.88 123.06 L305.72 123.04 L306.57 123.01 L307.41 122.99 L308.25 122.96 L309.1 122.93 L309.94 122.9 L310.78 122.87 L311.63 122.84 L312.47 122.81 L313.31 122.77 L314.16 122.74 L315 122.7 L315.84 122.66 L316.69 122.62 L317.53 122.57 L318.37 122.53 L319.21 122.48 L320.06 122.43 L320.9 122.38 L321.74 122.33 L322.58 122.28 L323.42 122.22 L324.27 122.16 L325.11 122.1 L325.95 122.04 L326.79 121.97 L327.63 121.9 L328.47 121.83 L329.31 121.76 L330.15 121.69 L330.99 121.61 L331.83 121.53 L332.67 121.45 L333.51 121.36 L334.35 121.28 L335.19 121.19 L336.02 121.1 L336.86 121 L337.7 120.91 L338.54 120.81 L339.38 120.71 L340.21 120.61 L341.05 120.51 L341.89 120.4 L342.73 120.3 L343.56 120.19 L344.4 120.08 L345.24 119.97 L346.08 119.86 L346.91 119.74 L347.75 119.62 L348.59 119.5 L349.42 119.37 L350.25 119.24 L351.09 119.09 L351.92 118.94 L352.74 118.79 L353.57 118.62 L354.39 118.44 L355.21 118.25 L356.03 118.05 L356.85 117.83 L357.66 117.61 L358.47 117.37 L359.28 117.13 L360.08 116.88 L360.89 116.62 L361.69 116.36 L362.49 116.08 L363.29 115.81 L364.09 115.53 L364.88 115.24 L365.68 114.95 L366.47 114.66 L367.26 114.36 L368.05 114.06 L368.83 113.74 L369.61 113.42 L370.38 113.08 L371.15 112.72 L371.9 112.35 L372.65 111.96 L373.39 111.55 L374.12 111.13 L374.84 110.68 L375.55 110.22 L376.24 109.75 L376.93 109.25 L377.6 108.74 L378.26 108.21 L378.9 107.66 L379.52 107.08 L380.11 106.48 L380.68 105.85 L381.21 105.19 L381.69 104.5 L382.12 103.78 L382.49 103.02 L382.79 102.23 L383 101.4" stroke="#800080" stroke-width="2.0"/>
<path d="M52.85 137.9 L53.68 137.89 L54.5 137.88 L55.33 137.87 L56.15 137.86 L56.98 137.85 L57.8 137.84 L58.63 137.83 L59.45 137.81 L60.28 137.8 L61.11 137.79 L61.93 137.78 L62.76 137.77 L63.58 137.76 L64.41 137.74 L65.23 137.73 L66.06 137.72 L66.89 137.71 L67.71 137.69 L68.54 137.68 L69.36 137.67 L70.19 137.66 L71.01 137.64 L71.84 137.63 L72.66 137.62 L73.49 137.61 L74.32 137.59 L75.14 137.58 L75.97 137.57 L76.79 137.55 L77.62 137.54 L78.44 137.53 L79.27 137.51 L80.09 137.5 L80.92 137.48 L81.75 137.47 L82.57 137.46 L83.4 137.44 L84.22 137.43 L85.05 137.42 L85.87 137.4 L86.7 137.39 L87.52 137.37 L88.35 137.36 L89.18 137.35 L90 137.33 L90.83 137.32 L91.65 137.3 L92.48 137.29 L93.3 137.28 L94.13 137.26 L94.95 137.25 L95.78 137.24 L96.61 137.22 L97.43 137.21 L98.26 137.19 L99.08 137.18 L99.91 137.17 L100.73 137.15 L101.56 137.14 L102.38 137.12 L103.21 137.11 L104.04 137.1 L104.86 137.08 L105.69 137.07 L106.51 137.06 L107.34 137.04 L108.16 137.03 L108.99 137.02 L109.81 137 L110.64 136.99 L111.47 136.98 L112.29 136.96 L113.12 136.95 L113.94 136.94 L114.77 136.92 L115.59 136.91 L116.42 136.9 L117.24 136.89 L118.07 136.87 L118.9 136.86 L119.72 136.85 L120.55 136.84 L121.37 136.82 L122.2 136.81 L123.02 136.8 L123.85 136.79 L124.67 136.77 L125.5 136.76 L126.33 136.75 L127.15 136.74 L127.98 136.73 L128.8 136.71 L129.63 136.7 L130.45 136.69 L131.28 136.68 L132.1 136.66 L132.93 136.65 L133.76 136.64 L134.58 136.63 L135.41 136.62 L136.23 136.6 L137.06 136.59 L137.88 136.58 L138.71 136.57 L139.53 136.56 L140.36 136.54 L141.19 136.53 L142.01 136.52 L142.84 136.51 L143.66 136.49 L144.49 136.48 L145.31 136.47 L146.14 136.46 L146.97 136.45 L147.79 136.43 L148.62 136.42 L149.44 136.41 L150.27 136.4 L151.09 136.38 L151.92 136.37 L152.74 136.36 L153.57 136.35 L154.4 136.33 L155.22 136.32 L156.05 136.31 L156.87 136.3 L157.7 136.28 L158.52 136.27 L159.35 136.26 L160.17 136.24 L161 136.23 L161.83 136.22 L162.65 136.21 L163.48 136.19 L164.3 136.18 L165.13 136.17 L165.95 136.16 L166.78 136.14 L167.6 136.13 L168.43 136.12 L169.26 136.1 L170.08 136.09 L170.91 136.08 L171.73 136.07 L172.56 136.05 L173.38 136.04 L174.21 136.03 L175.03 136.02 L175.86 136 L176.69 135.99 L177.51 135.98 L178.34 135.97 L179.16 135.95 L179.99 135.94 L180.81 135.93 L181.64 135.92 L182.47 135.91 L183.29 135.89 L184.12 135.88 L184.94 135.87 L185.77 135.86 L186.59 135.85 L187.42 135.84 L188.24 135.82 L189.07 135.81 L189.9 135.8 L190.72 135.79 L191.55 135.78 L192.37 135.77 L193.2 135.76 L194.02 135.75 L194.85 135.73 L195.67 135.72 L196.5 135.71 L197.33 135.7 L198.15 135.69 L198.98 135.68 L199.8 135.67 L200.63 135.66 L201.45 135.65 L202.28 135.64 L203.1 135.63 L203.93 135.62 L204.76 135.61 L205.58 135.6 L206.41 135.58 L207.23 135.57 L208.06 135.56 L208.88 135.55 L209.71 135.54 L210.54 135.53 L211.36 135.52 L212.19 135.51 L213.01 135.5 L213.84 135.49 L214.66 135.47 L215.49 135.46 L216.31 135.45 L217.14 135.44 L217.97 135.43 L218.79 135.42 L219.62 135.41 L220.44 135.39 L221.27 135.38 L222.09 135.37 L222.92 135.36 L223.74 135.34 L224.57 135.33 L225.4 135.32 L226.22 135.31 L227.05 135.29 L227.87 135.28 L228.7 135.27 L229.52 135.26 L230.35 135.24 L231.18 135.23 L232 135.22 L232.83 135.21 L233.65 135.19 L234.48 135.18 L235.3 135.17 L236.13 135.16 L236.95 135.15 L237.78 135.13 L238.61 135.12 L239.43 135.11 L240.26 135.1 L241.08 135.09 L241.91 135.08 L242.73 135.07 L243.56 135.06 L244.39 135.04 L245.21 135.03 L246.04 135.02 L246.86 135.01 L247.69 135 L248.51 135 L249.34 134.99 L250.16 134.98 L250.99 134.97 L251.82 134.96 L252.64 134.95 L253.47 134.95 L254.29 134.94 L255.12 134.93 L255.94 134.93 L256.77 134.92 L257.59 134.91 L258.42 134.91 L259.25 134.9 L260.07 134.9 L260.9 134.9 L261.72 134.89 L262.55 134.89 L263.37 134.89 L264.2 134.88 L265.02 134.88 L265.85 134.88 L266.68 134.88 L267.5 134.88 L268.33 134.88 L269.15 134.88 L269.98 134.88 L270.8 134.88 L271.63 134.88 L272.46 134.88 L273.28 134.88 L274.11 134.88 L274.93 134.88 L275.76 134.88 L276.58 134.88 L277.41 134.88 L278.23 134.88 L279.06 134.89 L279.89 134.89 L280.71 134.89 L281.54 134.89 L282.36 134.89 L283.19 134.89 L284.01 134.89 L284.84 134.9 L285.67 134.9 L286.49 134.9 L287.32 134.9 L288.14 134.9 L288.97 134.9 L289.8 134.9 L290.62 134.9 L291.45 134.9 L292.27 134.9 L293.1 134.9 L293.93 134.9 L294.75 134.9 L295.58 134.9 L296.4 134.9 L297.23 134.9 L298.06 134.9 L298.88 134.9 L299.71 134.9 L300.53 134.9 L301.36 134.9 L302.18 134.91 L303.01 134.91 L303.84 134.91 L304.66 134.91 L305.49 134.92 L306.31 134.92 L307.14 134.93 L307.97 134.93 L308.79 134.94 L309.62 134.95 L310.44 134.95 L311.27 134.96 L312.1 134.97 L312.92 134.98 L313.75 135 L314.57 135.01 L315.4 135.02 L316.22 135.04 L317.05 135.06 L317.87 135.07 L318.7 135.09 L319.52 135.11 L320.35 135.13 L321.18 135.16 L322 135.18 L322.83 135.21 L323.65 135.23 L324.48 135.26 L325.3 135.29 L326.13 135.33 L326.95 135.36 L327.77 135.39 L328.6 135.43 L329.42 135.47 L330.25 135.51 L331.07 135.56 L331.9 135.6 L332.72 135.65 L333.55 135.69 L334.37 135.74 L335.19 135.79 L336.02 135.84 L336.84 135.89 L337.67 135.95 L338.49 136 L339.31 136.05 L340.14 136.1 L340.96 136.15 L341.79 136.21 L342.61 136.26 L343.44 136.31 L344.26 136.36 L345.08 136.4 L345.91 136.45 L346.73 136.5 L347.56 136.54 L348.38 136.59 L349.21 136.63 L350.03 136.67 L350.86 136.72 L351.68 136.76 L352.5 136.8 L353.33 136.84 L354.15 136.88 L354.98 136.92 L355.8 136.96 L356.63 137 L357.45 137.04 L358.28 137.07 L359.1 137.11 L359.93 137.15 L360.75 137.19 L361.58 137.23 L362.4 137.27 L363.23 137.31 L364.05 137.35 L364.88 137.39 L365.7 137.44 L366.52 137.48 L367.35 137.52 L368.17 137.57 L369 137.61 L369.82 137.66 L370.65 137.71 L371.47 137.75 L372.29 137.8 L373.12 137.86 L373.94 137.91 L374.77 137.96 L375.59 138.02 L376.41 138.07 L377.24 138.13 L378.06 138.19 L378.88 138.26 L379.71 138.32 L380.53 138.39 L381.35 138.46 L382.18 138.53 L383 138.6" stroke="#007070" stroke-width="2.0"/>
<path d="M52.85 187.9 L53.68 187.9 L54.52 187.9 L55.35 187.9 L56.18 187.89 L57.02 187.89 L57.85 187.88 L58.68 187.87 L59.52 187.87 L60.35 187.86 L61.18 187.85 L62.02 187.84 L62.85 187.82 L63.68 187.81 L64.52 187.8 L65.35 187.78 L66.18 187.76 L67.02 187.75 L67.85 187.73 L68.69 187.71 L69.52 187.69 L70.35 187.66 L71.19 187.64 L72.02 187.61 L72.85 187.59 L73.69 187.56 L74.52 187.53 L75.35 187.5 L76.19 187.47 L77.02 187.43 L77.85 187.4 L78.68 187.36 L79.52 187.32 L80.35 187.28 L81.18 187.24 L82.02 187.2 L82.85 187.16 L83.68 187.11 L84.51 187.07 L85.35 187.02 L86.18 186.97 L87.01 186.92 L87.84 186.86 L88.67 186.81 L89.51 186.75 L90.34 186.69 L91.17 186.64 L92 186.57 L92.83 186.51 L93.66 186.45 L94.49 186.38 L95.32 186.31 L96.16 186.24 L96.99 186.17 L97.82 186.1 L98.65 186.03 L99.48 185.95 L100.31 185.87 L101.14 185.79 L101.97 185.71 L102.79 185.63 L103.62 185.54 L104.45 185.45 L105.28 185.37 L106.11 185.28 L106.94 185.19 L107.77 185.1 L108.6 185.01 L109.42 184.91 L110.25 184.82 L111.08 184.73 L111.91 184.63 L112.74 184.54 L113.57 184.44 L114.39 184.35 L115.22 184.25 L116.05 184.15 L116.88 184.06 L117.71 183.96 L118.53 183.87 L119.36 183.77 L120.19 183.68 L121.02 183.58 L121.85 183.49 L122.68 183.4 L123.5 183.3 L124.33 183.21 L125.16 183.12 L125.99 183.03 L126.82 182.94 L127.65 182.85 L128.48 182.75 L129.3 182.66 L130.13 182.57 L130.96 182.48 L131.79 182.39 L132.62 182.3 L133.45 182.21 L134.28 182.12 L135.11 182.03 L135.93 181.94 L136.76 181.85 L137.59 181.76 L138.42 181.67 L139.25 181.59 L140.08 181.5 L140.91 181.4 L141.73 181.31 L142.56 181.22 L143.39 181.13 L144.22 181.04 L145.05 180.95 L145.88 180.86 L146.71 180.77 L147.53 180.68 L148.36 180.58 L149.19 180.49 L150.02 180.4 L150.85 180.3 L151.68 180.21 L152.5 180.12 L153.33 180.02 L154.16 179.93 L154.99 179.83 L155.82 179.73 L156.64 179.64 L157.47 179.54 L158.3 179.44 L159.13 179.35 L159.96 179.25 L160.78 179.15 L161.61 179.06 L162.44 178.96 L163.27 178.86 L164.1 178.76 L164.92 178.66 L165.75 178.57 L166.58 178.47 L167.41 178.37 L168.23 178.27 L169.06 178.17 L169.89 178.07 L170.72 177.97 L171.55 177.88 L172.37 177.78 L173.2 177.68 L174.03 177.58 L174.86 177.48 L175.68 177.39 L176.51 177.29 L177.34 177.19 L178.17 177.09 L179 177 L179.82 176.9 L180.65 176.8 L181.48 176.71 L182.31 176.61 L183.14 176.51 L183.96 176.42 L184.79 176.32 L185.62 176.23 L186.45 176.13 L187.28 176.04 L188.1 175.95 L188.93 175.85 L189.76 175.76 L190.59 175.67 L191.42 175.58 L192.25 175.49 L193.08 175.39 L193.9 175.3 L194.73 175.21 L195.56 175.12 L196.39 175.03 L197.22 174.95 L198.05 174.86 L198.88 174.77 L199.71 174.68 L200.53 174.59 L201.36 174.51 L202.19 174.42 L203.02 174.34 L203.85 174.25 L204.68 174.17 L205.51 174.08 L206.34 174 L207.17 173.92 L208 173.83 L208.83 173.75 L209.66 173.67 L210.49 173.59 L211.32 173.51 L212.15 173.43 L212.98 173.35 L213.81 173.27 L214.64 173.19 L215.47 173.11 L216.3 173.04 L217.13 172.96 L217.96 172.88 L218.79 172.81 L219.62 172.73 L220.45 172.66 L221.28 172.59 L222.11 172.51 L222.94 172.44 L223.77 172.37 L224.6 172.3 L225.43 172.23 L226.26 172.16 L227.09 172.09 L227.92 172.02 L228.75 171.96 L229.59 171.89 L230.42 171.83 L231.25 171.76 L232.08 171.7 L232.91 171.63 L233.74 171.57 L234.57 171.51 L235.4 171.45 L236.24 171.39 L237.07 171.34 L237.9 171.28 L238.73 171.23 L239.56 171.17 L240.4 171.12 L241.23 171.07 L242.06 171.02 L242.89 170.97 L243.72 170.92 L244.56 170.87 L245.39 170.83 L246.22 170.78 L247.05 170.74 L247.89 170.7 L248.72 170.66 L249.55 170.62 L250.38 170.58 L251.22 170.55 L252.05 170.51 L252.88 170.48 L253.71 170.45 L254.55 170.42 L255.38 170.39 L256.21 170.36 L257.05 170.33 L257.88 170.3 L258.71 170.28 L259.55 170.25 L260.38 170.23 L261.21 170.2 L262.05 170.18 L262.88 170.16 L263.71 170.13 L264.55 170.11 L265.38 170.09 L266.21 170.07 L267.05 170.05 L267.88 170.03 L268.71 170 L269.55 169.98 L270.38 169.96 L271.21 169.95 L272.05 169.93 L272.88 169.91 L273.71 169.89 L274.55 169.88 L275.38 169.86 L276.21 169.85 L277.05 169.84 L277.88 169.82 L278.71 169.81 L279.55 169.8 L280.38 169.8 L281.21 169.79 L282.05 169.79 L282.88 169.78 L283.72 169.78 L284.55 169.78 L285.38 169.78 L286.22 169.79 L287.05 169.79 L287.89 169.8 L288.72 169.81 L289.55 169.82 L290.39 169.84 L291.22 169.85 L292.05 169.87 L292.89 169.89 L293.72 169.92 L294.55 169.95 L295.39 169.98 L296.22 170.01 L297.05 170.05 L297.88 170.09 L298.72 170.13 L299.55 170.17 L300.38 170.22 L301.21 170.28 L302.04 170.33 L302.88 170.39 L303.71 170.45 L304.54 170.52 L305.37 170.59 L306.2 170.66 L307.03 170.73 L307.86 170.81 L308.69 170.89 L309.52 170.97 L310.35 171.06 L311.18 171.14 L312.01 171.23 L312.84 171.32 L313.66 171.42 L314.49 171.51 L315.32 171.61 L316.15 171.71 L316.98 171.81 L317.8 171.92 L318.63 172.02 L319.46 172.13 L320.29 172.24 L321.11 172.35 L321.94 172.46 L322.77 172.57 L323.59 172.69 L324.42 172.8 L325.24 172.92 L326.07 173.04 L326.89 173.17 L327.72 173.29 L328.54 173.42 L329.37 173.54 L330.19 173.67 L331.01 173.8 L331.83 173.94 L332.66 174.08 L333.48 174.21 L334.3 174.35 L335.12 174.5 L335.94 174.64 L336.76 174.79 L337.58 174.94 L338.4 175.09 L339.22 175.25 L340.04 175.41 L340.86 175.57 L341.67 175.73 L342.49 175.9 L343.31 176.06 L344.12 176.23 L344.94 176.4 L345.75 176.58 L346.57 176.75 L347.38 176.93 L348.2 177.1 L349.01 177.28 L349.83 177.46 L350.64 177.64 L351.46 177.82 L352.27 178.01 L353.08 178.19 L353.9 178.38 L354.71 178.57 L355.52 178.77 L356.33 178.98 L357.13 179.19 L357.94 179.4 L358.74 179.63 L359.54 179.86 L360.34 180.1 L361.13 180.35 L361.92 180.62 L362.71 180.88 L363.49 181.16 L364.28 181.45 L365.06 181.74 L365.83 182.04 L366.61 182.35 L367.38 182.67 L368.15 182.99 L368.92 183.32 L369.69 183.65 L370.45 183.99 L371.21 184.34 L371.97 184.69 L372.73 185.04 L373.49 185.4 L374.25 185.75 L375.01 186.1 L375.77 186.43 L376.54 186.75 L377.31 187.05 L378.09 187.33 L378.88 187.58 L379.68 187.8 L380.49 187.99 L381.31 188.14 L382.15 188.24 L383 188.3" stroke="#0000ff" stroke-width="2.1"/>
</g>
<g>
<path d="M52.85 30.4 V50" stroke="#dc7878" stroke-width="0.9" fill="none"/><path d="M50.85 30.4 h4 M50.85 50 h4" stroke="#cc3c44" stroke-width="1" fill="none"/>
<rect x="50.05" y="36.9" width="5.6" height="5.6" fill="#b50000"/>
<path d="M110.15 21.5 V37.2" stroke="#dc7878" stroke-width="0.9" fill="none"/><path d="M108.15 21.5 h4 M108.15 37.2 h4" stroke="#cc3c44" stroke-width="1" fill="none"/>
<rect x="107.35" y="25.6" width="5.6" height="5.6" fill="#b50000"/>
<path d="M165.72 19.7 V34.4" stroke="#dc7878" stroke-width="0.9" fill="none"/><path d="M163.72 19.7 h4 M163.72 34.4 h4" stroke="#cc3c44" stroke-width="1" fill="none"/>
<rect x="162.92" y="24.5" width="5.6" height="5.6" fill="#b50000"/>
<path d="M217.85 23.3 V36.2" stroke="#dc7878" stroke-width="0.9" fill="none"/><path d="M215.85 23.3 h4 M215.85 36.2 h4" stroke="#cc3c44" stroke-width="1" fill="none"/>
<rect x="215.05" y="27.1" width="5.6" height="5.6" fill="#b50000"/>
<path d="M264.97 22.8 V32.2" stroke="#dc7878" stroke-width="0.9" fill="none"/><path d="M262.97 22.8 h4 M262.97 32.2 h4" stroke="#cc3c44" stroke-width="1" fill="none"/>
<rect x="262.17" y="23.8" width="5.6" height="5.6" fill="#b50000"/>
<path d="M305.64 23.5 V33.4" stroke="#dc7878" stroke-width="0.9" fill="none"/><path d="M303.64 23.5 h4 M303.64 33.4 h4" stroke="#cc3c44" stroke-width="1" fill="none"/>
<rect x="302.84" y="25.6" width="5.6" height="5.6" fill="#b50000"/>
<path d="M338.64 19 V31.6" stroke="#dc7878" stroke-width="0.9" fill="none"/><path d="M336.64 19 h4 M336.64 31.6 h4" stroke="#cc3c44" stroke-width="1" fill="none"/>
<rect x="335.84" y="22.5" width="5.6" height="5.6" fill="#b50000"/>
<path d="M362.95 35.4 V53.5" stroke="#dc7878" stroke-width="0.9" fill="none"/><path d="M360.95 35.4 h4 M360.95 53.5 h4" stroke="#cc3c44" stroke-width="1" fill="none"/>
<rect x="360.15" y="41.2" width="5.6" height="5.6" fill="#b50000"/>
<path d="M377.84 42.2 V69.4" stroke="#dc7878" stroke-width="0.9" fill="none"/><path d="M375.84 42.2 h4 M375.84 69.4 h4" stroke="#cc3c44" stroke-width="1" fill="none"/>
<rect x="375.04" y="52.2" width="5.6" height="5.6" fill="#b50000"/>
<path d="M382.85 37.7 V78.5" stroke="#dc7878" stroke-width="0.9" fill="none"/><path d="M380.85 37.7 h4 M380.85 78.5 h4" stroke="#cc3c44" stroke-width="1" fill="none"/>
<rect x="380.05" y="55.1" width="5.6" height="5.6" fill="#b50000"/>
<path d="M52.85 96.4 V109.8" stroke="#9c5c9c" stroke-width="0.9" fill="none"/><path d="M50.85 96.4 h4 M50.85 109.8 h4" stroke="#7a2a7a" stroke-width="1" fill="none"/>
<path d="M49.95 99.6 h5.8 l-2.9 6 z" fill="#5a005a"/>
<path d="M110.15 101.4 V111.5" stroke="#9c5c9c" stroke-width="0.9" fill="none"/><path d="M108.15 101.4 h4 M108.15 111.5 h4" stroke="#7a2a7a" stroke-width="1" fill="none"/>
<path d="M107.25 103.9 h5.8 l-2.9 6 z" fill="#5a005a"/>
<path d="M165.72 107.4 V118.9" stroke="#9c5c9c" stroke-width="0.9" fill="none"/><path d="M163.72 107.4 h4 M163.72 118.9 h4" stroke="#7a2a7a" stroke-width="1" fill="none"/>
<path d="M162.82 110.5 h5.8 l-2.9 6 z" fill="#5a005a"/>
<path d="M217.85 111.5 V125.2" stroke="#9c5c9c" stroke-width="0.9" fill="none"/><path d="M215.85 111.5 h4 M215.85 125.2 h4" stroke="#7a2a7a" stroke-width="1" fill="none"/>
<path d="M214.95 115.8 h5.8 l-2.9 6 z" fill="#5a005a"/>
<path d="M264.97 116.3 V127.2" stroke="#9c5c9c" stroke-width="0.9" fill="none"/><path d="M262.97 116.3 h4 M262.97 127.2 h4" stroke="#7a2a7a" stroke-width="1" fill="none"/>
<path d="M262.07 120.7 h5.8 l-2.9 6 z" fill="#5a005a"/>
<path d="M305.64 117.7 V127.2" stroke="#9c5c9c" stroke-width="0.9" fill="none"/><path d="M303.64 117.7 h4 M303.64 127.2 h4" stroke="#7a2a7a" stroke-width="1" fill="none"/>
<path d="M302.74 120.7 h5.8 l-2.9 6 z" fill="#5a005a"/>
<path d="M338.64 112.6 V123" stroke="#9c5c9c" stroke-width="0.9" fill="none"/><path d="M336.64 112.6 h4 M336.64 123 h4" stroke="#7a2a7a" stroke-width="1" fill="none"/>
<path d="M335.74 116 h5.8 l-2.9 6 z" fill="#5a005a"/>
<path d="M362.95 113.2 V124" stroke="#9c5c9c" stroke-width="0.9" fill="none"/><path d="M360.95 113.2 h4 M360.95 124 h4" stroke="#7a2a7a" stroke-width="1" fill="none"/>
<path d="M360.05 116 h5.8 l-2.9 6 z" fill="#5a005a"/>
<path d="M377.84 111 V120" stroke="#9c5c9c" stroke-width="0.9" fill="none"/><path d="M375.84 111 h4 M375.84 120 h4" stroke="#7a2a7a" stroke-width="1" fill="none"/>
<path d="M374.94 112.4 h5.8 l-2.9 6 z" fill="#5a005a"/>
<path d="M382.85 102 V114.2" stroke="#9c5c9c" stroke-width="0.9" fill="none"/><path d="M380.85 102 h4 M380.85 114.2 h4" stroke="#7a2a7a" stroke-width="1" fill="none"/>
<path d="M379.95 105.9 h5.8 l-2.9 6 z" fill="#5a005a"/>
<path d="M52.85 133.5 V140.9" stroke="#4a8a8a" stroke-width="0.9" fill="none"/><path d="M50.85 133.5 h4 M50.85 140.9 h4" stroke="#2a6a6a" stroke-width="1" fill="none"/>
<path d="M49.95 137 l2.9 -3.2 l2.9 3.2 l-2.9 3.2 z" fill="#003c3c"/>
<path d="M110.15 130 V137" stroke="#4a8a8a" stroke-width="0.9" fill="none"/><path d="M108.15 130 h4 M108.15 137 h4" stroke="#2a6a6a" stroke-width="1" fill="none"/>
<path d="M107.25 133.5 l2.9 -3.2 l2.9 3.2 l-2.9 3.2 z" fill="#003c3c"/>
<path d="M165.72 127.8 V136.5" stroke="#4a8a8a" stroke-width="0.9" fill="none"/><path d="M163.72 127.8 h4 M163.72 136.5 h4" stroke="#2a6a6a" stroke-width="1" fill="none"/>
<path d="M162.82 132.4 l2.9 -3.2 l2.9 3.2 l-2.9 3.2 z" fill="#003c3c"/>
<path d="M217.85 129 V136.5" stroke="#4a8a8a" stroke-width="0.9" fill="none"/><path d="M215.85 129 h4 M215.85 136.5 h4" stroke="#2a6a6a" stroke-width="1" fill="none"/>
<path d="M214.95 133 l2.9 -3.2 l2.9 3.2 l-2.9 3.2 z" fill="#003c3c"/>
<path d="M264.97 129 V136" stroke="#4a8a8a" stroke-width="0.9" fill="none"/><path d="M262.97 129 h4 M262.97 136 h4" stroke="#2a6a6a" stroke-width="1" fill="none"/>
<path d="M262.07 132.4 l2.9 -3.2 l2.9 3.2 l-2.9 3.2 z" fill="#003c3c"/>
<path d="M305.64 129 V136" stroke="#4a8a8a" stroke-width="0.9" fill="none"/><path d="M303.64 129 h4 M303.64 136 h4" stroke="#2a6a6a" stroke-width="1" fill="none"/>
<path d="M302.74 132.4 l2.9 -3.2 l2.9 3.2 l-2.9 3.2 z" fill="#003c3c"/>
<path d="M338.64 128 V135" stroke="#4a8a8a" stroke-width="0.9" fill="none"/><path d="M336.64 128 h4 M336.64 135 h4" stroke="#2a6a6a" stroke-width="1" fill="none"/>
<path d="M335.74 131 l2.9 -3.2 l2.9 3.2 l-2.9 3.2 z" fill="#003c3c"/>
<path d="M362.95 133 V139.4" stroke="#4a8a8a" stroke-width="0.9" fill="none"/><path d="M360.95 133 h4 M360.95 139.4 h4" stroke="#2a6a6a" stroke-width="1" fill="none"/>
<path d="M360.05 136 l2.9 -3.2 l2.9 3.2 l-2.9 3.2 z" fill="#003c3c"/>
<path d="M377.84 134 V142" stroke="#4a8a8a" stroke-width="0.9" fill="none"/><path d="M375.84 134 h4 M375.84 142 h4" stroke="#2a6a6a" stroke-width="1" fill="none"/>
<path d="M374.94 137.6 l2.9 -3.2 l2.9 3.2 l-2.9 3.2 z" fill="#003c3c"/>
<path d="M382.85 134.6 V143" stroke="#4a8a8a" stroke-width="0.9" fill="none"/><path d="M380.85 134.6 h4 M380.85 143 h4" stroke="#2a6a6a" stroke-width="1" fill="none"/>
<path d="M379.95 138.6 l2.9 -3.2 l2.9 3.2 l-2.9 3.2 z" fill="#003c3c"/>
<path d="M52.85 175.8 V191.4" stroke="#9a9ad4" stroke-width="0.9" fill="none"/><path d="M50.85 175.8 h4 M50.85 191.4 h4" stroke="#7070c0" stroke-width="1" fill="none"/>
<circle cx="52.85" cy="183.9" r="3.4" fill="#3c3c9c"/>
<path d="M110.15 168.5 V180.6" stroke="#9a9ad4" stroke-width="0.9" fill="none"/><path d="M108.15 168.5 h4 M108.15 180.6 h4" stroke="#7070c0" stroke-width="1" fill="none"/>
<circle cx="110.15" cy="174.6" r="3.4" fill="#3c3c9c"/>
<path d="M165.72 164.6 V175.3" stroke="#9a9ad4" stroke-width="0.9" fill="none"/><path d="M163.72 164.6 h4 M163.72 175.3 h4" stroke="#7070c0" stroke-width="1" fill="none"/>
<circle cx="165.72" cy="169.8" r="3.4" fill="#3c3c9c"/>
<path d="M217.85 164.6 V172" stroke="#9a9ad4" stroke-width="0.9" fill="none"/><path d="M215.85 164.6 h4 M215.85 172 h4" stroke="#7070c0" stroke-width="1" fill="none"/>
<circle cx="217.85" cy="168.8" r="3.4" fill="#3c3c9c"/>
<path d="M264.97 162.5 V168" stroke="#9a9ad4" stroke-width="0.9" fill="none"/><path d="M262.97 162.5 h4 M262.97 168 h4" stroke="#7070c0" stroke-width="1" fill="none"/>
<circle cx="264.97" cy="165.2" r="3.4" fill="#3c3c9c"/>
<path d="M305.64 163 V168" stroke="#9a9ad4" stroke-width="0.9" fill="none"/><path d="M303.64 163 h4 M303.64 168 h4" stroke="#7070c0" stroke-width="1" fill="none"/>
<circle cx="305.64" cy="165.6" r="3.4" fill="#3c3c9c"/>
<path d="M338.64 163 V168" stroke="#9a9ad4" stroke-width="0.9" fill="none"/><path d="M336.64 163 h4 M336.64 168 h4" stroke="#7070c0" stroke-width="1" fill="none"/>
<circle cx="338.64" cy="165.7" r="3.4" fill="#3c3c9c"/>
<path d="M362.95 172.5 V182.5" stroke="#9a9ad4" stroke-width="0.9" fill="none"/><path d="M360.95 172.5 h4 M360.95 182.5 h4" stroke="#7070c0" stroke-width="1" fill="none"/>
<circle cx="362.95" cy="177.8" r="3.4" fill="#3c3c9c"/>
<path d="M377.84 179.7 V195" stroke="#9a9ad4" stroke-width="0.9" fill="none"/><path d="M375.84 179.7 h4 M375.84 195 h4" stroke="#7070c0" stroke-width="1" fill="none"/>
<circle cx="377.84" cy="187.5" r="3.4" fill="#3c3c9c"/>
<path d="M382.85 180.8 V204.2" stroke="#9a9ad4" stroke-width="0.9" fill="none"/><path d="M380.85 180.8 h4 M380.85 204.2 h4" stroke="#7070c0" stroke-width="1" fill="none"/>
<circle cx="382.85" cy="192.5" r="3.4" fill="#3c3c9c"/>
</g>
<g stroke="#686868" stroke-width="0.85" fill="none">
<rect x="49.5" y="0.1" width="337.1" height="224.1"/>
<path d="M52.85 224.2 v-4.2 M52.85 0.1 v4.2 M69.35 224.2 v-2.5 M69.35 0.1 v2.5 M85.85 224.2 v-2.5 M85.85 0.1 v2.5 M102.35 224.2 v-2.5 M102.35 0.1 v2.5 M118.85 224.2 v-4.2 M118.85 0.1 v4.2 M135.35 224.2 v-2.5 M135.35 0.1 v2.5 M151.85 224.2 v-2.5 M151.85 0.1 v2.5 M168.35 224.2 v-2.5 M168.35 0.1 v2.5 M184.85 224.2 v-4.2 M184.85 0.1 v4.2 M201.35 224.2 v-2.5 M201.35 0.1 v2.5 M217.85 224.2 v-2.5 M217.85 0.1 v2.5 M234.35 224.2 v-2.5 M234.35 0.1 v2.5 M250.85 224.2 v-4.2 M250.85 0.1 v4.2 M267.35 224.2 v-2.5 M267.35 0.1 v2.5 M283.85 224.2 v-2.5 M283.85 0.1 v2.5 M300.35 224.2 v-2.5 M300.35 0.1 v2.5 M316.85 224.2 v-4.2 M316.85 0.1 v4.2 M333.35 224.2 v-2.5 M333.35 0.1 v2.5 M349.85 224.2 v-2.5 M349.85 0.1 v2.5 M366.35 224.2 v-2.5 M366.35 0.1 v2.5 M382.85 224.2 v-4.2 M382.85 0.1 v4.2 M49.5 224.3 h4.2 M386.6 224.3 h-4.2 M49.5 216.3 h2.5 M386.6 216.3 h-2.5 M49.5 208.3 h2.5 M386.6 208.3 h-2.5 M49.5 200.3 h2.5 M386.6 200.3 h-2.5 M49.5 192.3 h2.5 M386.6 192.3 h-2.5 M49.5 184.3 h4.2 M386.6 184.3 h-4.2 M49.5 176.3 h2.5 M386.6 176.3 h-2.5 M49.5 168.3 h2.5 M386.6 168.3 h-2.5 M49.5 160.3 h2.5 M386.6 160.3 h-2.5 M49.5 152.3 h2.5 M386.6 152.3 h-2.5 M49.5 144.3 h4.2 M386.6 144.3 h-4.2 M49.5 136.3 h2.5 M386.6 136.3 h-2.5 M49.5 128.3 h2.5 M386.6 128.3 h-2.5 M49.5 120.3 h2.5 M386.6 120.3 h-2.5 M49.5 112.3 h2.5 M386.6 112.3 h-2.5 M49.5 104.3 h4.2 M386.6 104.3 h-4.2 M49.5 96.3 h2.5 M386.6 96.3 h-2.5 M49.5 88.3 h2.5 M386.6 88.3 h-2.5 M49.5 80.3 h2.5 M386.6 80.3 h-2.5 M49.5 72.3 h2.5 M386.6 72.3 h-2.5 M49.5 64.3 h4.2 M386.6 64.3 h-4.2 M49.5 56.3 h2.5 M386.6 56.3 h-2.5 M49.5 48.3 h2.5 M386.6 48.3 h-2.5 M49.5 40.3 h2.5 M386.6 40.3 h-2.5 M49.5 32.3 h2.5 M386.6 32.3 h-2.5 M49.5 24.3 h4.2 M386.6 24.3 h-4.2 M49.5 16.3 h2.5 M386.6 16.3 h-2.5 M49.5 8.3 h2.5 M386.6 8.3 h-2.5" stroke="#6c6c6c" stroke-width="0.75"/>
</g>
<g font-family="Liberation Sans, sans-serif" font-size="14.9px" fill="#000" stroke="#000" stroke-width="0.18" opacity="0.999">
<text transform="translate(52.95,242.4) scale(1,1.075)" text-anchor="middle" font-size="15.3px">0.0</text>
<text transform="translate(118.95,242.4) scale(1,1.075)" text-anchor="middle" font-size="15.3px">0.2</text>
<text transform="translate(184.95,242.4) scale(1,1.075)" text-anchor="middle" font-size="15.3px">0.4</text>
<text transform="translate(250.95,242.4) scale(1,1.075)" text-anchor="middle" font-size="15.3px">0.6</text>
<text transform="translate(316.95,242.4) scale(1,1.075)" text-anchor="middle" font-size="15.3px">0.8</text>
<text transform="translate(382.95,242.4) scale(1,1.075)" text-anchor="middle" font-size="15.3px">1.0</text>
<text transform="translate(45.5,230) scale(1,1.1)" text-anchor="end">0.0</text>
<text transform="translate(45.5,190) scale(1,1.1)" text-anchor="end">0.5</text>
<text transform="translate(45.5,150) scale(1,1.1)" text-anchor="end">1.0</text>
<text transform="translate(45.5,110) scale(1,1.1)" text-anchor="end">1.5</text>
<text transform="translate(45.5,70) scale(1,1.1)" text-anchor="end">2.0</text>
<text transform="translate(45.5,30) scale(1,1.1)" text-anchor="end">2.5</text>
<g font-size="15.25px">
<text transform="translate(113,266.7) scale(1,1.12)" text-anchor="start">Measurement</text>
<text transform="translate(209.1,266.7) scale(1,1.09)" text-anchor="start" font-size="15.7px">strength</text>
<text transform="translate(274.2,266.7) scale(1,1.09)" text-anchor="start" font-size="15.7px">cos</text>
<text transform="translate(303.2,266.7) scale(1,1.12)" text-anchor="start">2</text>
<g font-family="Liberation Serif, serif">
<text transform="translate(269.3,266.4) scale(1,1.12)" text-anchor="start">(</text>
<text transform="translate(311.9,266.7) scale(1,1.12)" text-anchor="start" font-style="italic">θ</text>
<text transform="translate(319,266.4) scale(1,1.12)" text-anchor="start">)</text>
</g></g>
<text transform="translate(14.4,112.2) rotate(-90) scale(1,1.12)" text-anchor="middle" font-size="15.2px">LHS of EDR</text>
</g>
</svg>
</body></html>
